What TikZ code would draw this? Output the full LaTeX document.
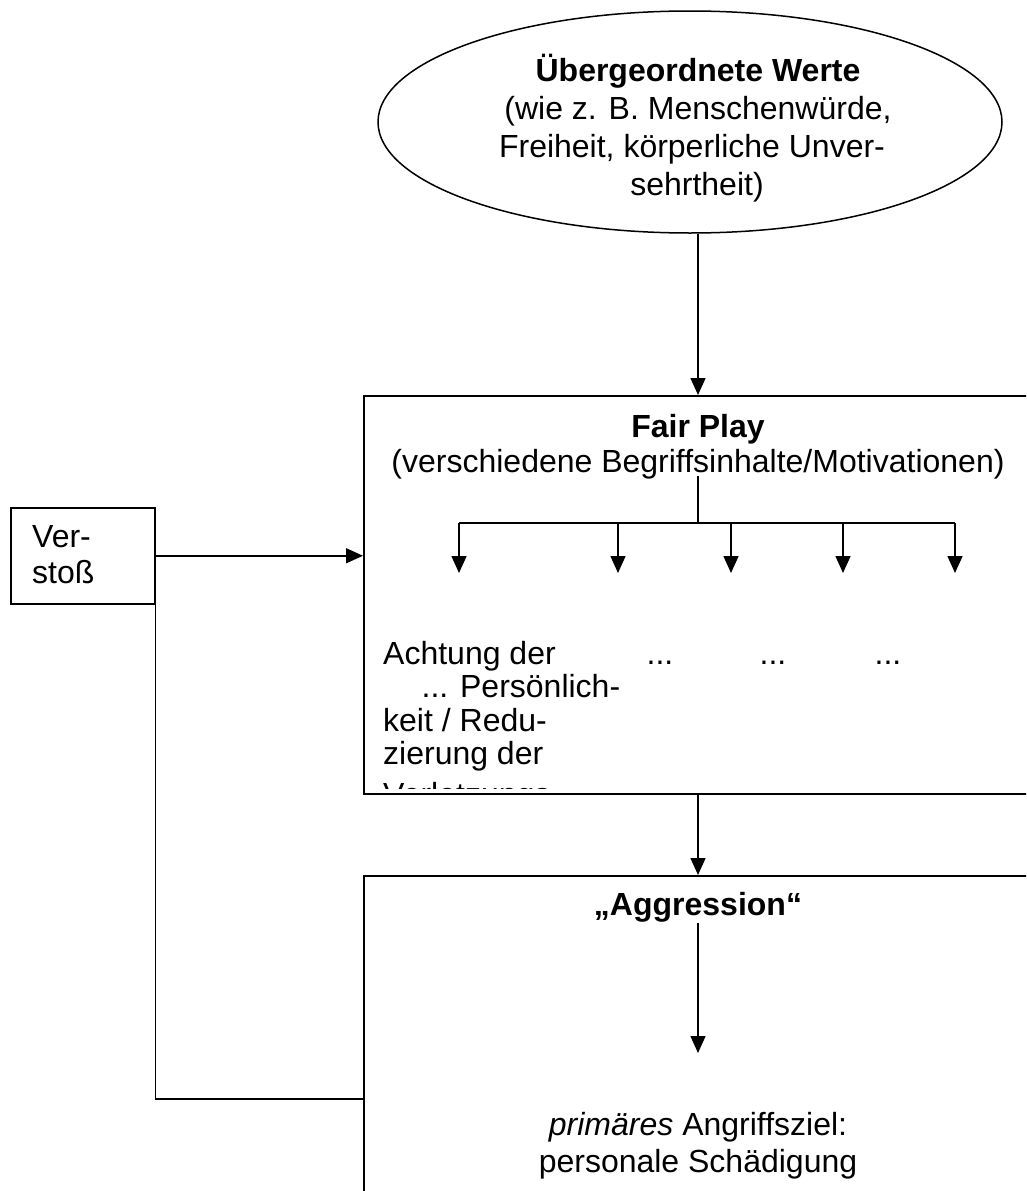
\documentclass[tikz,border=0pt]{standalone}
\usepackage{fontspec}
\setmainfont{Liberation Sans}
\usetikzlibrary{arrows.meta,shapes.geometric,calc}
\begin{document}
\begin{tikzpicture}[x=1pt,y=-1pt,
  ln/.style={line width=1.5pt},
  arr/.style={ln,-{Triangle[length=17pt,width=15pt]}},
  box/.style={draw,ln,rectangle,inner sep=0pt,anchor=north west},
  txt/.style={font=\fontsize{32}{36}\selectfont,inner sep=0pt,anchor=base},
  ltxt/.style={txt,anchor=base west}]
\useasboundingbox (0,0) rectangle (1026,1191);
\clip (0,0) rectangle (1026,1191);
% ellipse
\node[draw,ln,ellipse,minimum width=624pt,minimum height=222pt,inner sep=0pt] (ell) at (690,122) {};
\node[txt] (e1) at (698,81) {\bfseries Übergeordnete Werte};
\node[txt] (e2) at (698,119) {(wie z. B. Menschenwürde,};
\node[txt] (e3) at (692,157) {Freiheit, körperliche Unver-};
\node[txt] (e4) at (697,195) {sehrtheit)};
% Fair Play box
\node[box,minimum width=690pt,minimum height=398pt] (fp) at (363,395) {};
\node[txt] (f1) at (698,437) {\bfseries Fair Play};
\node[txt] (f2) at (698,472) {(verschiedene Begriffsinhalte/Motivationen)};
\coordinate (stem) at (698,476);
\coordinate (br) at (698,523);
\coordinate (b1) at (459,523);
\coordinate (b2) at (618,523);
\coordinate (b3) at (731,523);
\coordinate (b4) at (843,523);
\coordinate (b5) at (955,523);
\coordinate (c1) at (459,573);
\coordinate (c2) at (618,573);
\coordinate (c3) at (731,573);
\coordinate (c4) at (843,573);
\coordinate (c5) at (955,573);
\node[ltxt] (a1) at (383,664) {Achtung der};
\node[ltxt] (a2) at (383,697.5) {\hspace*{1.2em}... Persönlich-};
\node[ltxt] (a3) at (383,731) {keit / Redu-};
\node[ltxt] (a4) at (383,764.5) {zierung der};
\begin{scope}
\clip (365,700) rectangle (1026,788);
\node[ltxt] (a5) at (383,805) {Verletzungs-};
\end{scope}
\node[txt] (d1) at (660,664) {...};
\node[txt] (d2) at (773,664) {...};
\node[txt] (d3) at (888,664) {...};
% Verstoss box
\node[box,minimum width=144pt,minimum height=96pt] (vs) at (10,507) {};
\node[ltxt] (v1) at (32,547) {Ver-};
\node[ltxt] (v2) at (32,583) {stoß};
% Aggression box
\node[box,minimum width=690pt,minimum height=400pt] (ag) at (363,875) {};
\node[txt] (g1) at (698,915) {\bfseries „Aggression“};
\coordinate (gs) at (698,923);
\coordinate (ge) at (698,1053);
\node[txt] (g2) at (698,1135) {\itshape primäres\upshape{} Angriffsziel:};
\node[txt] (g3) at (698,1172) {personale Schädigung};
\coordinate (aglink) at (363,1099);
% connectors
\draw[arr] (ell.south -| f1) -- (f1 |- fp.north);
\draw[ln] (stem) -- (br);
\draw[ln] (b1) -- (b5);
\foreach \i in {1,...,5} {\draw[arr] (b\i) -- (c\i);}
\draw[arr] (vs.east) -- (vs.east -| fp.west);
\draw[ln] (vs.south east) |- (aglink);
\draw[arr] (f1 |- fp.south) -- (f1 |- ag.north);
\draw[arr] (gs) -- (ge);
\end{tikzpicture}
\end{document}
